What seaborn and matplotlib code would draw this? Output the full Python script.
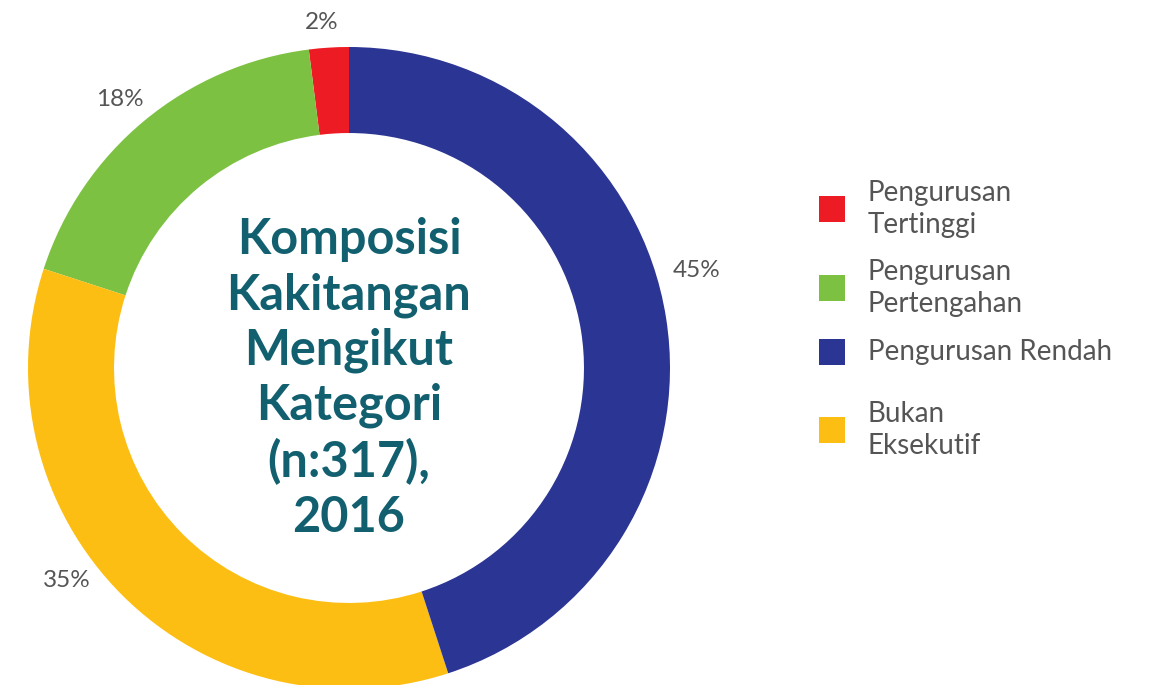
import numpy as np
import matplotlib
matplotlib.use("Agg")
import matplotlib.pyplot as plt
from matplotlib.patches import Rectangle
import seaborn as sns

# Staff composition by category (n = 317), 2016
categories = ["Pengurusan\nTertinggi", "Pengurusan\nPertengahan", "Bukan\nEksekutif", "Pengurusan Rendah"]
shares = [2, 18, 35, 45]
colors = ["#ED1C24", "#7DC142", "#FDBE14", "#2B3593"]

legend_order = [0, 1, 3, 2]
center_title = "Komposisi\nKakitangan\nMengikut\nKategori\n(n:317),\n2016"

sns.set_theme(style="white")
plt.rcParams["font.family"] = ["Lato", "DejaVu Sans"]

W, H = 1153, 685
fig = plt.figure(figsize=(W / 100, H / 100), dpi=100)
fig.patch.set_facecolor("white")

# Donut centred at (349, 368) px from top-left, outer radius 321 px
cx, cy, R = 349, 368, 321
ax = fig.add_axes([(cx - R) / W, (H - cy - R) / H, 2 * R / W, 2 * R / H])

wedges, _ = ax.pie(
    shares,
    colors=sns.color_palette(colors),
    startangle=90,
    counterclock=True,
    radius=1.0,
    wedgeprops=dict(width=0.268, linewidth=0),
)
ax.set_xlim(-1, 1)
ax.set_ylim(-1, 1)
ax.axis("off")

# Percentage labels just outside the ring
angle_shift = [0.9, 0.9, -8.0, 6.7]
label_r = [1.08, 1.098, 1.10, 1.126]
for w, v, da, r in zip(wedges, shares, angle_shift, label_r):
    mid = np.deg2rad((w.theta1 + w.theta2) / 2 + da)
    ax.text(r * np.cos(mid), r * np.sin(mid), f"{v}%", ha="center", va="center",
            fontsize=17.5, color="#555555", clip_on=False)

ax.text(0, -0.033, center_title, ha="center", va="center", fontsize=35,
        fontweight="bold", color="#12606F", linespacing=1.26)

# Legend: colour squares with category names
sq = 26
legend_y = [209, 288, 352, 430]
for idx, yc in zip(legend_order, legend_y):
    fig.patches.append(Rectangle((819 / W, (H - yc - sq / 2) / H), sq / W, sq / H,
                                 transform=fig.transFigure, facecolor=colors[idx],
                                 edgecolor="none"))
    fig.text(868 / W, (H - yc) / H, categories[idx], ha="left", va="center",
             fontsize=20, color="#555555", linespacing=1.32)

fig.savefig("out.png", dpi=100, facecolor="white")
